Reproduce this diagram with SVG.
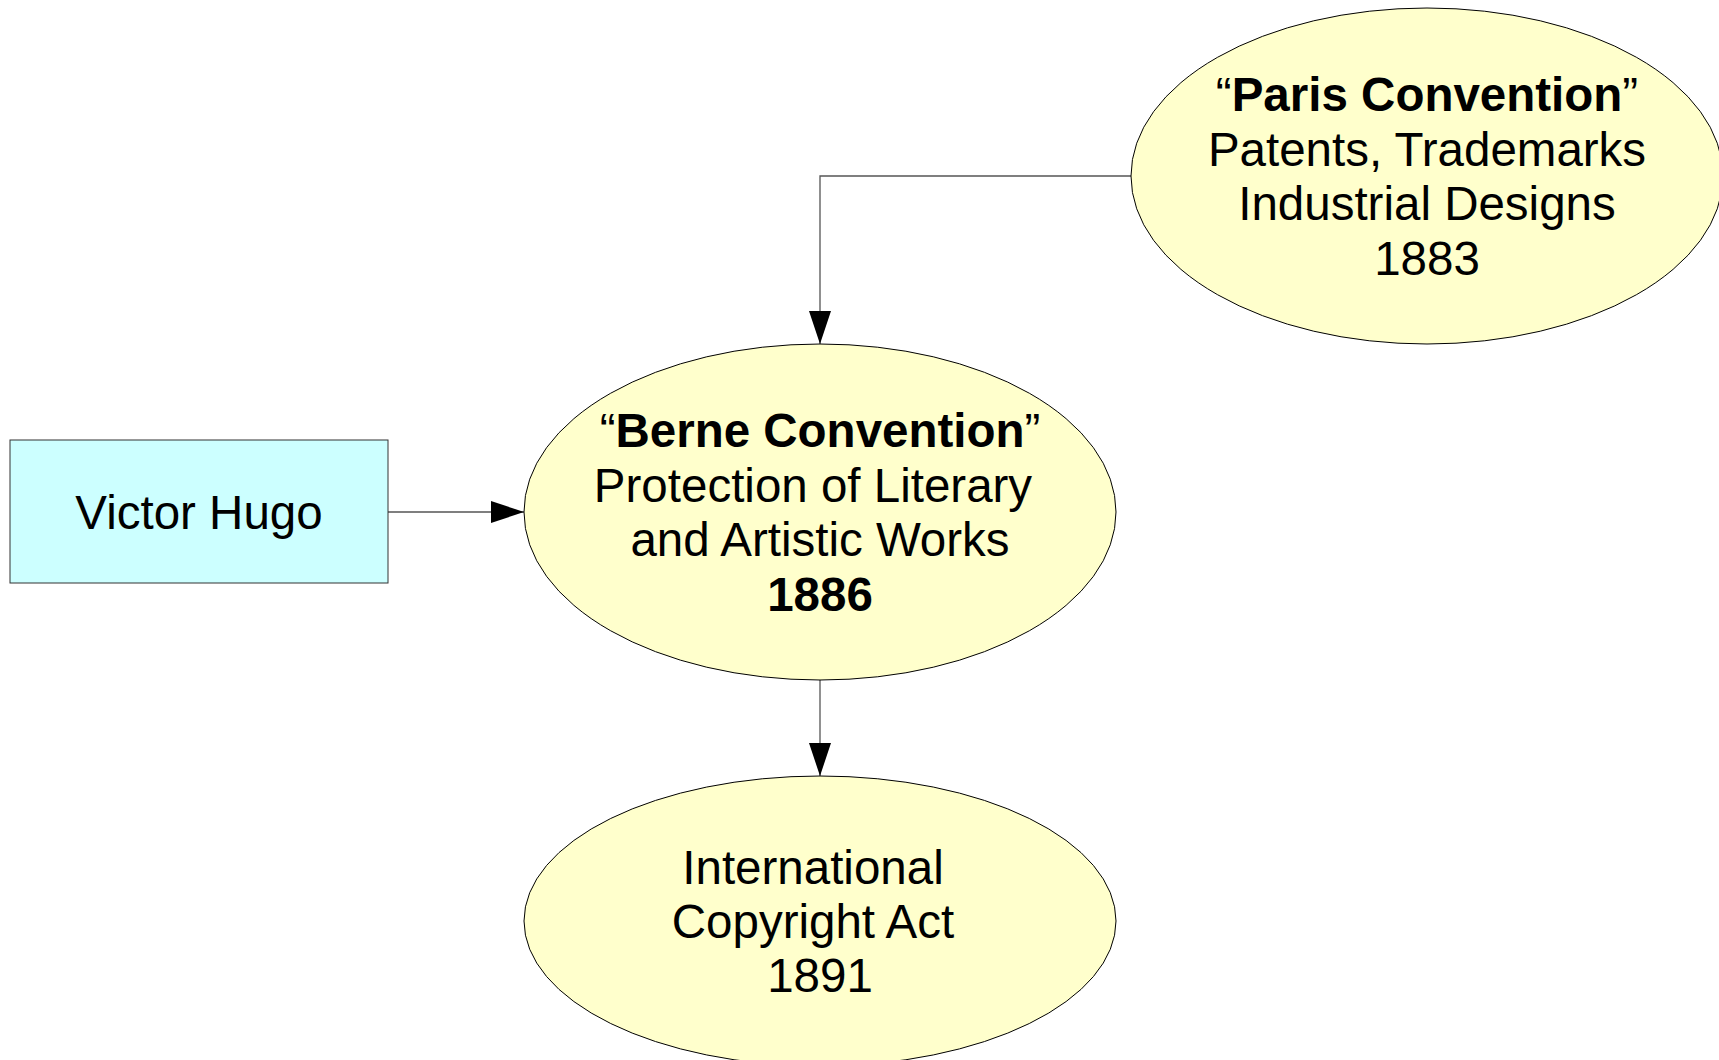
<svg xmlns="http://www.w3.org/2000/svg" width="1719" height="1060" viewBox="0 0 1719 1060">
<style>
  .t { font-family: "Liberation Sans", Arial, sans-serif; font-size: 47.5px; fill: #000; text-anchor: middle; }
  .b { font-weight: bold; }
  .ell { fill: #ffffcc; stroke: #000; stroke-width: 1; }
  .box { fill: #ccffff; stroke: #333; stroke-width: 1; }
  .con { fill: none; stroke: #555; stroke-width: 1.3; }
</style>
<defs>
  <marker id="arr" markerUnits="userSpaceOnUse" markerWidth="33" markerHeight="22" refX="33" refY="11" orient="auto" viewBox="0 0 33 22">
    <path d="M0,0 L33,11 L0,22 z" fill="#000"/>
  </marker>
</defs>
<rect width="1719" height="1060" fill="#fff"/>
<g id="connectors">
  <path class="con" d="M1131,176 H820 V344" marker-end="url(#arr)"/>
  <path class="con" d="M388,512 H524" marker-end="url(#arr)"/>
  <path class="con" d="M820,680 V776" marker-end="url(#arr)"/>
</g>
<g id="paris">
  <ellipse class="ell" cx="1427" cy="176" rx="296" ry="168"/>
  <text class="t" x="1427" y="111">“<tspan class="b">Paris Convention</tspan>”</text>
  <text class="t" x="1427" y="166">Patents, Trademarks</text>
  <text class="t" x="1427" y="220">Industrial Designs</text>
  <text class="t" x="1427" y="275">1883</text>
</g>
<g id="victor-hugo">
  <rect class="box" x="10" y="440" width="378" height="143"/>
  <text class="t" x="199" y="529">Victor Hugo</text>
</g>
<g id="berne">
  <ellipse class="ell" cx="820" cy="512" rx="296" ry="168"/>
  <text class="t" x="820" y="447">“<tspan class="b">Berne Convention</tspan>”</text>
  <text class="t" x="813" y="502">Protection of Literary</text>
  <text class="t" x="820" y="556">and Artistic Works</text>
  <text class="t b" x="820" y="611">1886</text>
</g>
<g id="copyright-act">
  <ellipse class="ell" cx="820" cy="921" rx="296" ry="145"/>
  <text class="t" x="813" y="884">International</text>
  <text class="t" x="813" y="938">Copyright Act</text>
  <text class="t" x="820" y="992">1891</text>
</g>
</svg>
